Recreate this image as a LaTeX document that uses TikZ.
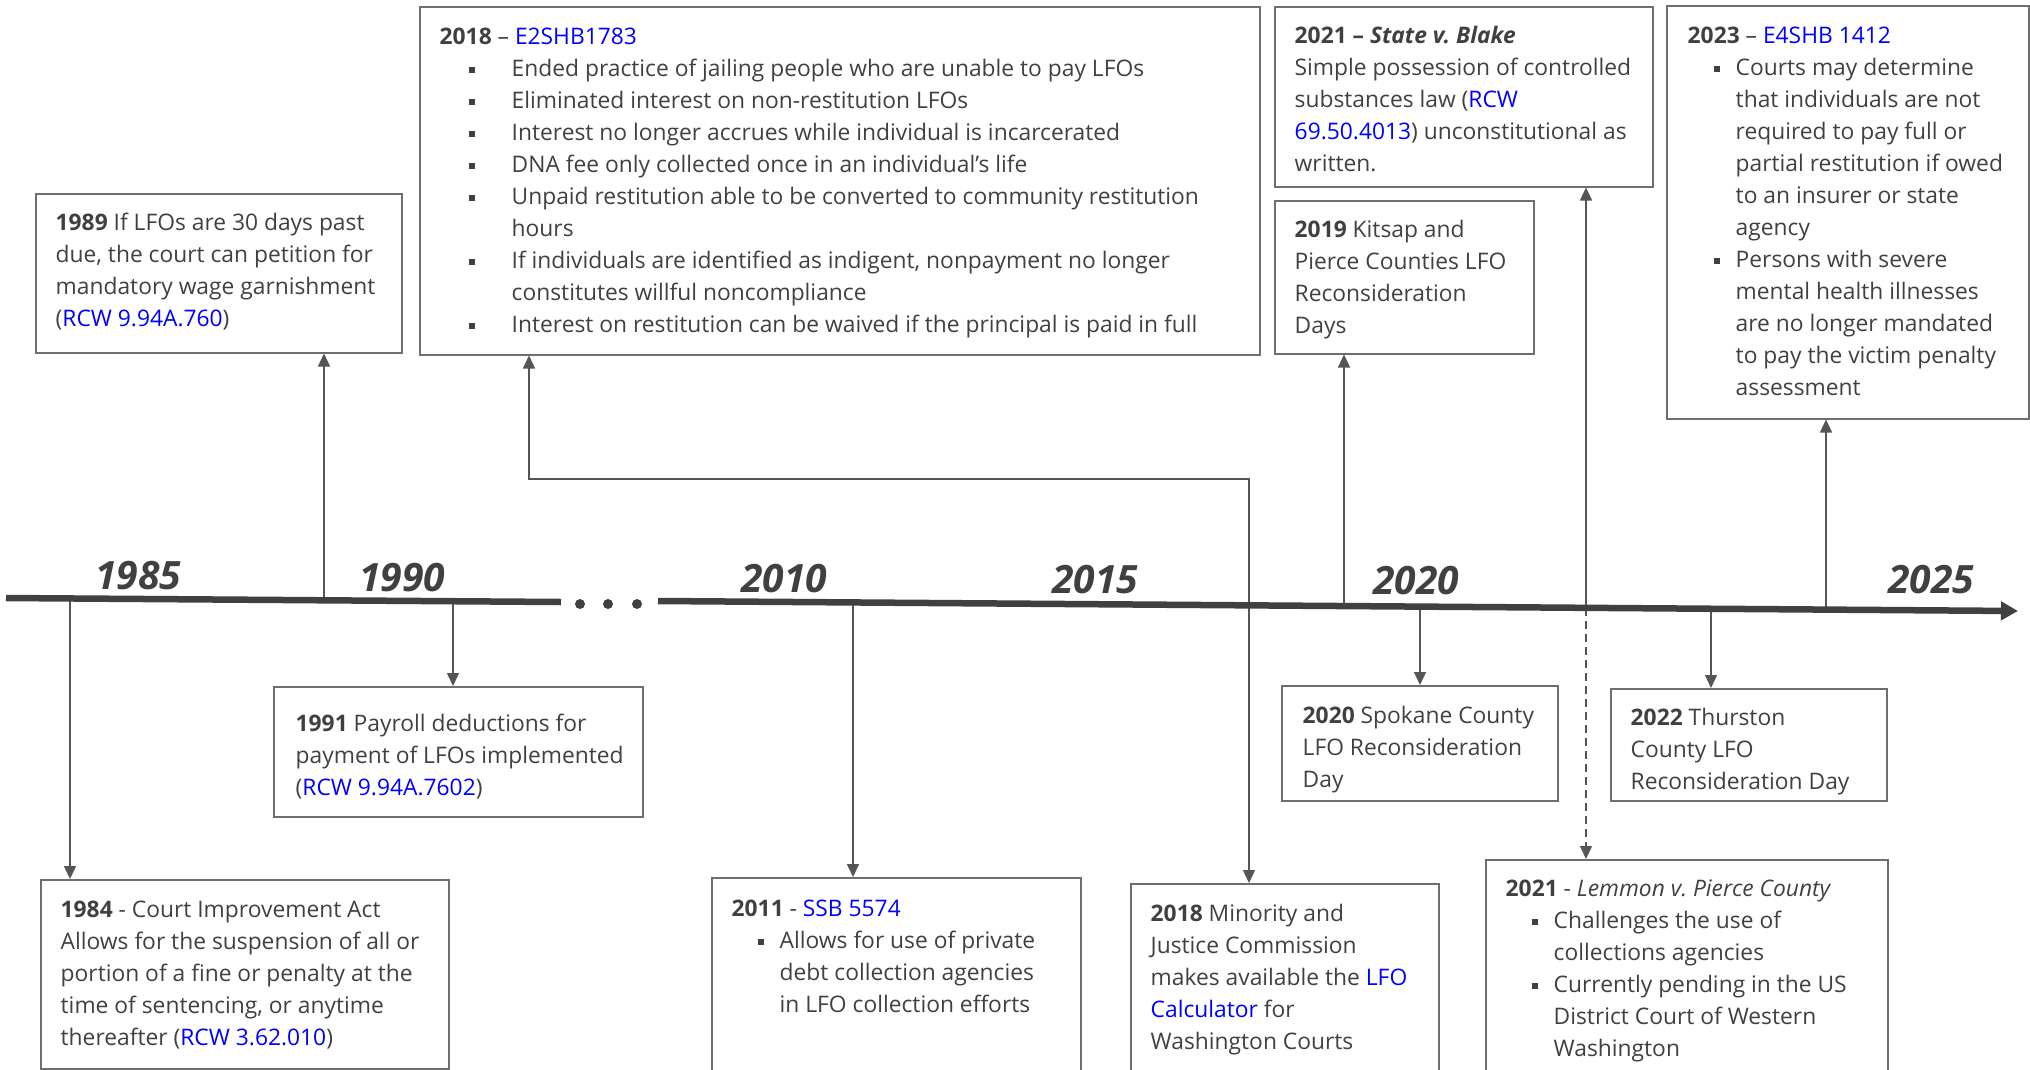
\documentclass[tikz,border=0pt]{standalone}
\usepackage{fontspec}
\setmainfont{Open Sans}
\usetikzlibrary{arrows.meta,positioning,calc}

\definecolor{txtgray}{HTML}{404040}
\definecolor{linegray}{HTML}{555555}
\definecolor{boxgray}{HTML}{6E6E6E}
\definecolor{lnkblue}{HTML}{0000FF}

\newcommand{\lnk}[1]{\textcolor{lnkblue}{#1}}
\newcommand{\bul}{\rule[3pt]{6.5pt}{6.5pt}}
\newlength\bulx \setlength\bulx{26pt}
\newlength\txtx \setlength\txtx{48pt}
\newcommand{\itm}[1]{\makebox[\txtx][l]{\hspace*{\bulx}\bul}#1}
\newcommand{\cnt}[1]{\hspace*{\txtx}#1}

\begin{document}
\begin{tikzpicture}[->, >={Triangle[length=13pt,width=12pt]}, x=1pt, y=-1pt, line width=1.4pt, linegray]
\tikzstyle{evbox}=[draw=boxgray, line width=1.5pt, anchor=north west, inner sep=0pt]
\tikzstyle{evtxt}=[inner sep=0pt, align=left, text=txtgray, font=\fontsize{22.8}{32}\selectfont]
\tikzstyle{yr}=[text=txtgray, inner sep=0pt, font=\fontsize{39}{39}\selectfont\bfseries\itshape]
\tikzstyle{widelist}=[execute at begin node={\setlength\bulx{29pt}\setlength\txtx{72pt}}]

\clip[-] (0,0) rectangle (2030,1069);

% boxes above the time line
\node[evbox, minimum width=366pt, minimum height=159pt] (1989)  at (35,193)   {};
\node[evbox, minimum width=840pt, minimum height=348pt] (2018a) at (419,6)    {};
\node[evbox, minimum width=378pt, minimum height=180pt] (2021a) at (1274,6)   {};
\node[evbox, minimum width=259pt, minimum height=153pt] (2019)  at (1274,200) {};
\node[evbox, minimum width=362pt, minimum height=413pt] (2023)  at (1666,5)   {};
% boxes below the time line
\node[evbox, minimum width=408pt, minimum height=189pt] (1984)  at (40,879)   {};
\node[evbox, minimum width=369pt, minimum height=130pt] (1991)  at (273,686)  {};
\node[evbox, minimum width=369pt, minimum height=230pt] (2011)  at (711,877)  {};
\node[evbox, minimum width=308pt, minimum height=230pt] (2018b) at (1130,883) {};
\node[evbox, minimum width=276pt, minimum height=115pt] (2020)  at (1281,685) {};
\node[evbox, minimum width=276pt, minimum height=112pt] (2022)  at (1610,688) {};
\node[evbox, minimum width=402pt, minimum height=230pt] (2021b) at (1485,859) {};

\node[evtxt, below right=14pt and 20pt of 1989.north west] (t1989)
  {\strut\textbf{1989} If LFOs are 30 days past\\
   due, the court can petition for\\
   mandatory wage garnishment\\
   (\lnk{RCW 9.94A.760})};
\node[evtxt, widelist, below right=15pt and 20pt of 2018a.north west] (t2018a)
  {\strut\textbf{2018} -- \lnk{E2SHB1783}\\
   \itm{Ended practice of jailing people who are unable to pay LFOs}\\
   \itm{Eliminated interest on non-restitution LFOs}\\
   \itm{Interest no longer accrues while individual is incarcerated}\\
   \itm{DNA fee only collected once in an individual’s life}\\
   \itm{Unpaid restitution able to be converted to community restitution}\\
   \cnt{hours}\\
   \itm{If individuals are identified as indigent, nonpayment no longer}\\
   \cnt{constitutes willful noncompliance}\\
   \itm{Interest on restitution can be waived if the principal is paid in full}};
\node[evtxt, below right=14pt and 20pt of 2021a.north west] (t2021a)
  {\strut\textbf{2021 -- \textit{State v.\ Blake}}\\
   Simple possession of controlled\\
   substances law (\lnk{RCW}\\
   \lnk{69.50.4013}) unconstitutional as\\
   written.};
\node[evtxt, below right=14pt and 20pt of 2019.north west] (t2019)
  {\strut\textbf{2019} Kitsap and\\
   Pierce Counties LFO\\
   Reconsideration\\
   Days};
\node[evtxt, below right=15pt and 21pt of 2023.north west] (t2023)
  {\strut\textbf{2023} -- \lnk{E4SHB 1412}\\
   \itm{Courts may determine}\\
   \cnt{that individuals are not}\\
   \cnt{required to pay full or}\\
   \cnt{partial restitution if owed}\\
   \cnt{to an insurer or state}\\
   \cnt{agency}\\
   \itm{Persons with severe}\\
   \cnt{mental health illnesses}\\
   \cnt{are no longer mandated}\\
   \cnt{to pay the victim penalty}\\
   \cnt{assessment}};
\node[evtxt, below right=15pt and 20pt of 1984.north west] (t1984)
  {\strut\textbf{1984} - Court Improvement Act\\
   Allows for the suspension of all or\\
   portion of a fine or penalty at the\\
   time of sentencing, or anytime\\
   thereafter (\lnk{RCW 3.62.010})};
\node[evtxt, below right=22pt and 22pt of 1991.north west] (t1991)
  {\strut\textbf{1991} Payroll deductions for\\
   payment of LFOs implemented\\
   (\lnk{RCW 9.94A.7602})};
\node[evtxt, below right=16pt and 20pt of 2011.north west] (t2011)
  {\strut\textbf{2011} - \lnk{SSB 5574}\\
   \itm{Allows for use of private}\\
   \cnt{debt collection agencies}\\
   \cnt{in LFO collection efforts}};
\node[evtxt, below right=15pt and 20pt of 2018b.north west] (t2018b)
  {\strut\textbf{2018} Minority and\\
   Justice Commission\\
   makes available the \lnk{LFO}\\
   \lnk{Calculator} for\\
   Washington Courts};
\node[evtxt, below right=15pt and 21pt of 2020.north west] (t2020)
  {\strut\textbf{2020} Spokane County\\
   LFO Reconsideration\\
   Day};
\node[evtxt, below right=14pt and 20pt of 2022.north west] (t2022)
  {\strut\textbf{2022} Thurston\\
   County LFO\\
   Reconsideration Day};
\node[evtxt, below right=14pt and 20pt of 2021b.north west] (t2021b)
  {\strut\textbf{2021} - \textit{Lemmon v.\ Pierce County}\\
   \itm{Challenges the use of}\\
   \cnt{collections agencies}\\
   \itm{Currently pending in the US}\\
   \cnt{District Court of Western}\\
   \cnt{Washington}};

% where the connectors leave the time line
\coordinate (c1984) at (70,599);
\coordinate (c1989) at (324,600);
\coordinate (c1991) at (453,601);
\coordinate (c2011) at (853,602);
\coordinate (c2019) at (1344,606);
\coordinate (c2020) at (1420,607);
\coordinate (c2021) at (1586,608);
\coordinate (c2022) at (1711,609);
\coordinate (c2023) at (1826,610);
\coordinate (k2018a) at (529,479);
\coordinate (k2018b) at (1249,479);

\path
(c1984) edge (1984.north -| c1984)
(c1989) edge (1989.south -| c1989)
(c1991) edge (1991.north -| c1991)
(c2011) edge (2011.north -| c2011)
(c2019) edge (2019.south -| c2019)
(c2020) edge (2020.north -| c2020)
(c2021) edge (2021a.south -| c2021)
(c2022) edge (2022.north -| c2022)
(c2023) edge (2023.south -| c2023);
\draw[<->] (2018a.south -| k2018a) -- (k2018a) -- (k2018b) -- (2018b.north -| k2018b);
\draw[dashed, dash pattern=on 8pt off 5pt] (c2021) -- (2021b.north -| c2021);

% time line
\coordinate (tla) at (6,598);
\coordinate (tlb) at (561,602);
\coordinate (tlc) at (658,601);
\coordinate (tld) at (2018,611);
\draw[-, txtgray, line width=6.5pt] (tla) -- (tlb);
\draw[-{Triangle[length=17pt,width=18pt]}, txtgray, line width=6.5pt] (tlc) -- (tld);
\fill[txtgray] (580,604) circle (5pt) (608,604) circle (5pt) (637,604) circle (5pt);

\node[yr] (y1985) at (138,576) {1985};
\node[yr] (y1990) at (402,578) {1990};
\node[yr] (y2010) at (784,579) {2010};
\node[yr] (y2015) at (1095,580) {2015};
\node[yr] (y2020) at (1416,581) {2020};
\node[yr] (y2025) at (1931,580) {2025};
\end{tikzpicture}
\end{document}
